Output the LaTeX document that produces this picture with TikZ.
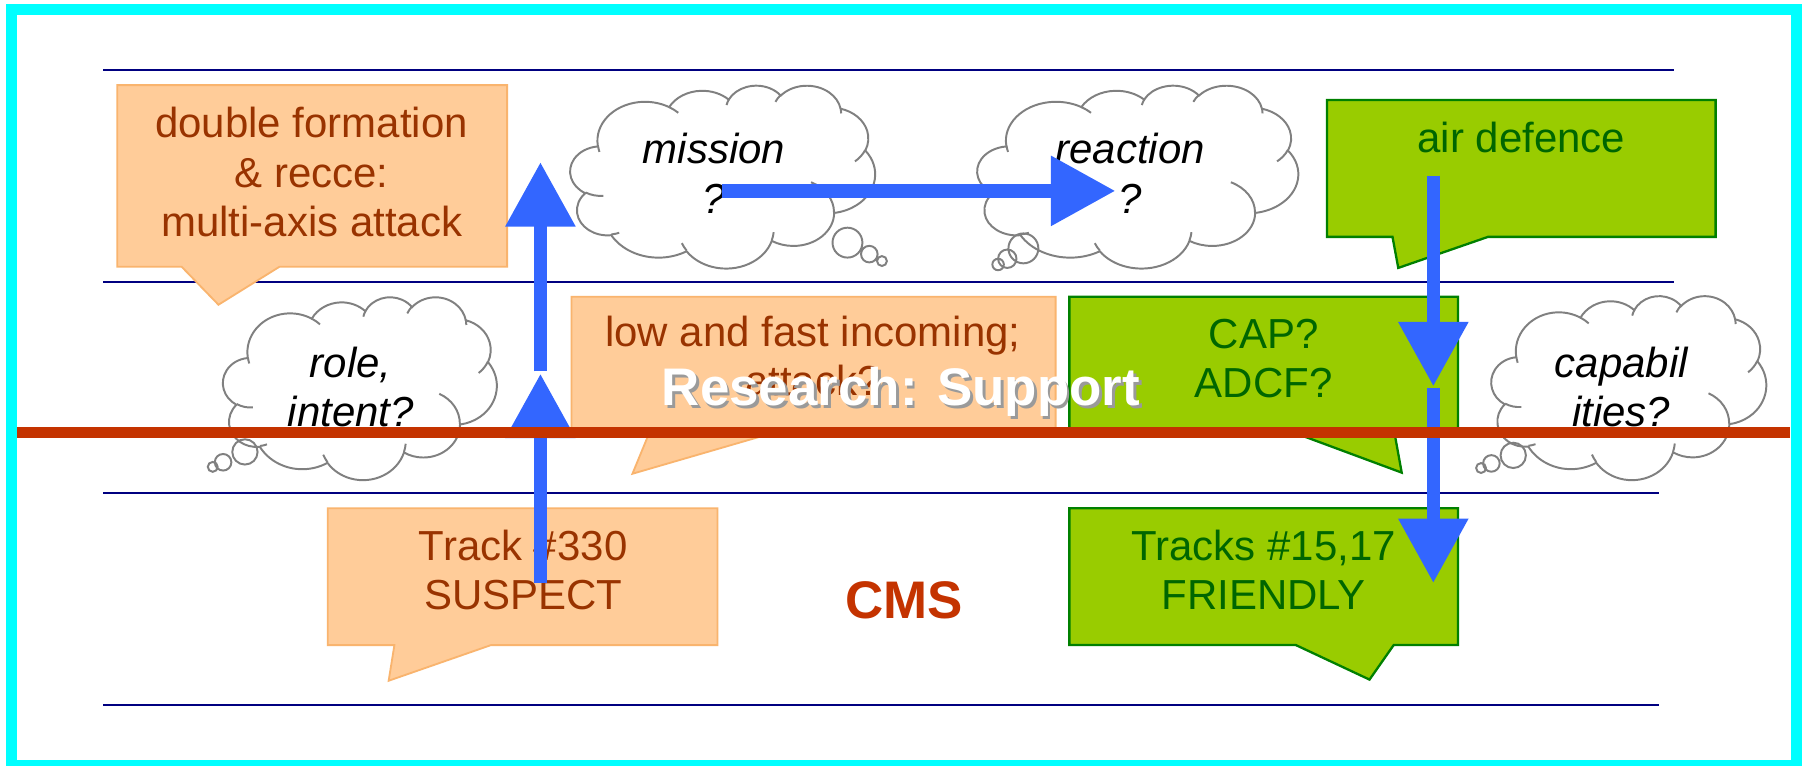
\documentclass[tikz,border=0pt]{standalone}
\usepackage{fontspec}
\setmainfont{Liberation Sans}
\usetikzlibrary{arrows.meta}

\definecolor{frameCyan}{HTML}{00FFFF}
\definecolor{rule}{HTML}{000080}
\definecolor{cmsRed}{HTML}{C43300}
\definecolor{peach}{HTML}{FFCC99}
\definecolor{peachLine}{HTML}{F9B46E}
\definecolor{rust}{HTML}{993300}
\definecolor{lime}{HTML}{99CC00}
\definecolor{limeLine}{HTML}{008000}
\definecolor{leaf}{HTML}{006600}
\definecolor{flow}{HTML}{3366FF}
\definecolor{puff}{HTML}{808080}
\definecolor{shade}{HTML}{9A9A9A}

% cloud outline in a 432 x 432 frame (y pointing down)
\newcommand{\cloudoutline}{%
  (39.00,143.70)
  arc[start angle=-187.745, delta angle=128.105, x radius=67.53, y radius=91.90]
  arc[start angle=-152.02, delta angle=106.57, x radius=53.33, y radius=72.67]
  arc[start angle=-153.50, delta angle=116.18, x radius=43.65, y radius=59.45]
  arc[start angle=-139.71, delta angle=129.50, x radius=48.57, y radius=65.95]
  arc[start angle=-74.77, delta angle=97.98, x radius=53.33, y radius=72.73]
  arc[start angle=-37.52, delta angle=119.38, x radius=67.75, y radius=92.20]
  arc[start angle=0.46, delta angle=121.52, x radius=57.85, y radius=78.67]
  arc[start angle=16.84, delta angle=129.40, x radius=67.52, y radius=92.15]
  arc[start angle=58.98, delta angle=91.23, x radius=77.20, y radius=105.43]
  arc[start angle=-276.69, delta angle=139.79, x radius=43.60, y radius=59.18]
  arc[start angle=-239.64, delta angle=143.75, x radius=43.45, y radius=59.45]
  -- cycle}
% short inner strokes where the puffs meet
\newcommand{\cloudcreases}{%
  (46.93,261.77) arc[start angle=85.54, delta angle=34.82, x radius=43.45, y radius=59.45]
  (69.28,348.99) arc[start angle=68.24, delta angle=15.07, x radius=43.60, y radius=59.18]
  (164.78,390.90) arc[start angle=146.24, delta angle=12.23, x radius=67.52, y radius=92.15]
  (288.27,347.51) arc[start angle=4.74, delta angle=12.10, x radius=67.52, y radius=92.15]
  (341.29,229.54) arc[start angle=-64.02, delta angle=64.48, x radius=57.85, y radius=78.67]
  (417.98,153.54) arc[start angle=23.21, delta angle=26.42, x radius=53.33, y radius=72.73]
  (383.24,54.26) arc[start angle=-10.21, delta angle=11.03, x radius=48.57, y radius=65.95]
  (290.78,39.52) arc[start angle=-156.29, delta angle=16.58, x radius=48.57, y radius=65.95]
  (221.41,47.20) arc[start angle=-167.73, delta angle=14.23, x radius=43.65, y radius=59.45]
  (140.00,51.92) arc[start angle=-59.64, delta angle=13.90, x radius=67.53, y radius=91.90]
  (41.27,157.89) arc[start angle=164.43, delta angle=9.00, x radius=67.53, y radius=91.90]}
% #1 left, #2 top, #3 width, #4 height
\newcommand{\thoughtcloud}[4]{%
  \begin{scope}[shift={(#1,#2)}, xscale=#3/432, yscale=#4/432]
    \filldraw[cloudline, fill=white] \cloudoutline;
    \draw[cloudline] \cloudcreases;
  \end{scope}}

\begin{document}
\begin{tikzpicture}[x=0.5pt, y=-0.5pt,
  lane/.style={draw=rule, line width=0.9pt},
  peachbox/.style={fill=peach, draw=peachLine, line width=0.8pt},
  limebox/.style={fill=lime, draw=limeLine, line width=1pt},
  boxtext/.style={font=\fontsize{18.25}{21.5}\selectfont, align=center, inner sep=0pt,
    execute at begin node=\strut, execute at end node=\strut},
  peachtext/.style={boxtext, text=rust},
  limetext/.style={boxtext, text=leaf},
  cloudline/.style={draw=puff, line width=0.85pt},
  bubble/.style={draw=puff, line width=0.85pt},
  thoughttext/.style={boxtext, font=\fontsize{18.25}{21.5}\selectfont\itshape},
  flowarrow/.style={draw=flow, line width=5.75pt, -{Triangle[width=29pt, length=28pt]}},
  redrule/.style={draw=cmsRed, line width=4.75pt},
  banner/.style={anchor=base, font=\fontsize{23}{27}\selectfont\bfseries, inner sep=0pt},
]
% page and frame
\clip (0,0) rectangle (1568,666);
\fill[white] (0,0) rectangle (1568,666);
\draw[draw=frameCyan, line width=4.75pt] (10,8.5) rectangle (1562,666);

% horizontal rules
\draw[lane] (90,61) -- (1456,61);
\draw[lane] (90,245) -- (1456,245);
\draw[lane] (90,429) -- (1443,429);
\draw[lane] (90,613) -- (1443,613);

% speech boxes
\draw[peachbox] (102,74) -- (441,74) -- (441,232) -- (243,232) -- (190,265) -- (158,232) -- (102,232) -- cycle;
\node[peachtext] (t-formation) at (271,156) {double formation\\\& recce:\\multi-axis attack};

\draw[peachbox] (497,258) -- (918,258) -- (918,378) -- (667,378) -- (550,412) -- (564,378) -- (497,378) -- cycle;
\node[peachtext] (t-incoming) at (707,316) {low and fast incoming;\\attack?};

\draw[peachbox] (285,442) -- (624,442) -- (624,561) -- (427,561) -- (338,592) -- (343,561) -- (285,561) -- cycle;
\node[peachtext] (t-suspect) at (455,502) {Track \#330\\SUSPECT};

\draw[limebox] (1154,87) -- (1492,87) -- (1492,206) -- (1294,206) -- (1216,233) -- (1211,206) -- (1154,206) -- cycle;
\node[limetext] (t-airdef) at (1323,124) {air defence};

\draw[limebox] (930,258) -- (1268,258) -- (1268,378) -- (1213,378) -- (1219,411) -- (1130,378) -- (930,378) -- cycle;
\node[limetext] (t-cap) at (1099,318) {CAP?\\ADCF?};

\draw[limebox] (930,442) -- (1268,442) -- (1268,561) -- (1212,561) -- (1191,591) -- (1127,561) -- (930,561) -- cycle;
\node[limetext] (t-friendly) at (1099,502) {Tracks \#15,17\\FRIENDLY};

% thought clouds
\thoughtcloud{496}{74}{265}{159}
\node[thoughttext] (t-mission) at (621,157) {mission\\?};
\draw[bubble] (737,211) circle[radius=13] (756,221) circle[radius=7.2] (767,227) circle[radius=4.3];

\thoughtcloud{850}{74}{279}{159}
\node[thoughttext] (t-reaction) at (983,157) {reaction\\?};
\draw[bubble] (890,216) circle[radius=13] (876,225) circle[radius=8] (868,230) circle[radius=5];

\thoughtcloud{194}{258}{238}{159}
\node[thoughttext] (t-role) at (305,343) {role,\\intent?};
\draw[bubble] (213,393) circle[radius=11] (194,402) circle[radius=7.2] (185,406) circle[radius=4.3];

\thoughtcloud{1297}{257}{239}{160}
\node[thoughttext] (t-capab) at (1410,343) {capabil\\ities?};
\draw[bubble] (1316,396) circle[radius=11] (1297,403) circle[radius=7.2] (1288,407) circle[radius=4.3];

% flow arrows
\coordinate (up-a) at (470,507);
\coordinate (up-b) at (470,325);
\coordinate (up-c) at (470,323);
\coordinate (up-d) at (470,141);
\coordinate (across-a) at (628,166);
\coordinate (across-b) at (970,166);
\coordinate (down-a) at (1246.5,153);
\coordinate (down-b) at (1246.5,336);
\coordinate (down-c) at (1246.5,337);
\coordinate (down-d) at (1246.5,507);
\draw[flowarrow] (up-a) -- (up-b);
\draw[flowarrow] (up-c) -- (up-d);
\draw[flowarrow] (across-a) -- (across-b);
\draw[flowarrow] (down-a) -- (down-b);
\draw[flowarrow] (down-c) -- (down-d);

% dividing line
\coordinate (divide-w) at (15,376.5);
\coordinate (divide-e) at (1557,376.5);
\draw[redrule] (divide-w) -- (divide-e);

% overlay labels
\node[banner, text=shade] (research-shadow) at (786,355) {Research: Support};
\node[banner, text=white] (research) at (783.5,352.5) {Research: Support};
\node[banner, text=cmsRed] (cms) at (786,538) {CMS};
\end{tikzpicture}
\end{document}
